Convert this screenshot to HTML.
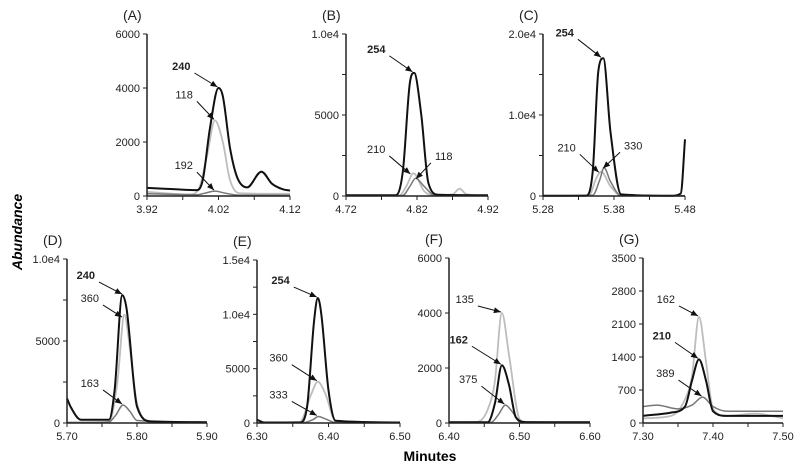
<!DOCTYPE html>
<html><head><meta charset="utf-8"><style>
html,body{margin:0;padding:0;background:#fff;}
svg{display:block;font-family:"Liberation Sans",Arial,sans-serif;}
</style></head><body>
<svg id="chart" width="800" height="468" viewBox="0 0 800 468">
<text x="22" y="232" font-size="14" font-weight="bold" font-style="italic" text-anchor="middle" transform="rotate(-90 22 232)">Abundance</text>
<text x="430" y="461" font-size="14" font-weight="bold" text-anchor="middle">Minutes</text>
</svg>
<script>
// Panel A
const aX=[3.92,3.96,3.99,3.998,4.008,4.02,4.026,4.036,4.046,4.06,4.08,4.095,4.11,4.12];
const aBlack=[300,250,220,600,2500,4000,3700,1800,700,320,900,450,250,200];
const aLX=[3.92,3.98,3.993,4.004,4.015,4.026,4.036,4.05,4.12];
const aLight=[150,60,300,1500,2800,2000,600,100,80];
const aGX=[3.92,3.99,4.0,4.015,4.03,4.05,4.12];
const aGray=[80,50,100,180,100,30,30];
// Panel B
const bX=[4.72,4.79,4.80,4.81,4.816,4.826,4.836,4.85,4.92];
const bBlack=[50,50,1500,7000,7600,5000,800,80,50];
const bLX=[4.72,4.795,4.805,4.815,4.83,4.845,4.87,4.88,4.89,4.92];
const bLight=[20,30,600,1400,300,40,100,450,100,30];
const bGX=[4.72,4.80,4.81,4.818,4.83,4.845,4.92];
const bGray=[20,40,600,1100,600,40,20];
// Panel C
const cX=[5.28,5.34,5.35,5.358,5.365,5.375,5.39,5.46,5.474,5.48];
const cBlack=[30,30,3000,15500,17000,8000,200,30,300,7000];
const cLX=[5.28,5.345,5.355,5.362,5.375,5.39,5.48];
const cLight=[20,100,2200,3000,1200,50,20];
const cGX=[5.28,5.35,5.36,5.366,5.375,5.39,5.48];
const cGray=[20,100,2000,3500,1800,50,20];
// Panel D
const dX=[5.70,5.705,5.72,5.76,5.768,5.779,5.785,5.80,5.82,5.90];
const dBlack=[1500,1000,200,200,2000,7800,7000,1000,100,50];
const dLX=[5.70,5.76,5.772,5.782,5.79,5.80,5.82,5.90];
const dLight=[30,50,2500,6600,4500,1200,80,30];
const dGX=[5.70,5.76,5.77,5.78,5.79,5.80,5.90];
const dGray=[30,60,500,1100,700,150,30];
// Panel E
const eX=[6.30,6.31,6.36,6.37,6.38,6.385,6.39,6.40,6.41,6.50];
const eBlack=[300,50,50,1500,9500,11500,10000,3000,200,50];
const eLX=[6.30,6.36,6.375,6.385,6.395,6.41,6.50];
const eLight=[30,100,2500,3800,2800,200,30];
const eGX=[6.30,6.365,6.378,6.386,6.395,6.41,6.50];
const eGray=[20,40,300,600,400,50,20];
// Panel F
const fX=[6.40,6.455,6.465,6.475,6.485,6.495,6.51,6.60];
const fBlack=[30,30,700,2100,1400,200,30,30];
const fLX=[6.40,6.44,6.455,6.465,6.475,6.485,6.50,6.51,6.60];
const fLight=[30,40,500,1500,4000,2500,150,40,30];
const fGX=[6.40,6.46,6.47,6.48,6.49,6.50,6.60];
const fGray=[20,30,300,650,400,50,20];
// Panel G
const gX=[7.30,7.34,7.36,7.37,7.38,7.39,7.40,7.42,7.50];
const gBlack=[150,220,350,900,1350,900,250,150,150];
const gLX=[7.30,7.34,7.36,7.37,7.38,7.39,7.40,7.42,7.46,7.50];
const gLight=[100,150,500,1000,2250,1300,300,150,200,100];
const gGX=[7.30,7.32,7.35,7.37,7.385,7.40,7.42,7.50];
const gGray=[350,380,300,380,550,350,250,250];

const panels=[
 {id:'a',t:'(A)',L:147,R:290,T:34,B:196,x0:3.92,x1:4.12,ymax:6000,yt:[0,2000,4000,6000],yl:['0','2000','4000','6000'],xl:['3.92','4.02','4.12'],
  s:[[aLX,aLight,'#bdbdbd',1.8],[aGX,aGray,'#777',1.5],[aX,aBlack,'#111',2]],
  ann:[['240',true,4.02,4000,-28,-18],['118',false,4.015,2800,-22,-22],['192',false,4.015,180,-22,-22]]},
 {id:'b',t:'(B)',L:346,R:488,T:34,B:196,x0:4.72,x1:4.92,ymax:10000,yt:[0,2500,5000,7500,10000],yl:['0','','5000','','1.0e4'],xl:['4.72','4.82','4.92'],
  s:[[bLX,bLight,'#bdbdbd',1.8],[bGX,bGray,'#777',1.5],[bX,bBlack,'#111',2]],
  ann:[['254',true,4.815,7600,-28,-20],['210',false,4.812,1300,-26,-22],['118',false,4.82,1000,18,-20]]},
 {id:'c',t:'(C)',L:543,R:685,T:34,B:196,x0:5.28,x1:5.48,ymax:20000,yt:[0,5000,10000,15000,20000],yl:['0','','1.0e4','','2.0e4'],xl:['5.28','5.38','5.48'],
  s:[[cLX,cLight,'#bdbdbd',1.8],[cGX,cGray,'#777',1.5],[cX,cBlack,'#111',2]],
  ann:[['254',true,5.363,17000,-28,-22],['210',false,5.36,2800,-24,-22],['330',false,5.366,3300,20,-20]]},
 {id:'d',t:'(D)',L:67,R:207,T:259,B:423,x0:5.70,x1:5.90,ymax:10000,yt:[0,2500,5000,7500,10000],yl:['0','','5000','','1.0e4'],xl:['5.70','5.80','5.90'],
  s:[[dLX,dLight,'#bdbdbd',1.8],[dGX,dGray,'#777',1.5],[dX,dBlack,'#111',2]],
  ann:[['240',true,5.78,7800,-28,-16],['360',false,5.78,6400,-24,-16],['163',false,5.78,1100,-24,-18]]},
 {id:'e',t:'(E)',L:257,R:400,T:260,B:423,x0:6.30,x1:6.50,ymax:15000,yt:[0,2500,5000,7500,10000,12500,15000],yl:['0','','5000','','1.0e4','','1.5e4'],xl:['6.30','6.40','6.50'],
  s:[[eLX,eLight,'#bdbdbd',1.8],[eGX,eGray,'#777',1.5],[eX,eBlack,'#111',2]],
  ann:[['254',true,6.385,11500,-28,-14],['360',false,6.385,3800,-30,-20],['333',false,6.385,600,-30,-18]]},
 {id:'f',t:'(F)',L:449,R:590,T:258,B:423,x0:6.40,x1:6.60,ymax:6000,yt:[0,2000,4000,6000],yl:['0','2000','4000','6000'],xl:['6.40','6.50','6.60'],
  s:[[fLX,fLight,'#bdbdbd',1.8],[fGX,fGray,'#777',1.5],[fX,fBlack,'#111',2]],
  ann:[['135',false,6.475,4000,-28,-10],['162',true,6.475,2100,-34,-22],['375',false,6.48,650,-28,-22]]},
 {id:'g',t:'(G)',L:643,R:783,T:258,B:423,x0:7.30,x1:7.50,ymax:3500,yt:[0,700,1400,2100,2800,3500],yl:['0','700','1400','2100','2800','3500'],xl:['7.30','7.40','7.50'],
  s:[[gLX,gLight,'#bdbdbd',1.8],[gGX,gGray,'#777',1.5],[gX,gBlack,'#111',2]],
  ann:[['162',false,7.38,2250,-24,-14],['210',true,7.38,1350,-28,-20],['389',false,7.385,550,-28,-20]]}
];
const NS='http://www.w3.org/2000/svg';
const svg=document.getElementById('chart');
function mk(tag,attrs,parent){const e=document.createElementNS(NS,tag);for(const k in attrs)e.setAttribute(k,attrs[k]);(parent||svg).appendChild(e);return e;}
const defs=mk('defs',{});
const mkr=mk('marker',{id:'ah',markerWidth:'8',markerHeight:'8',refX:'7',refY:'4',orient:'auto',markerUnits:'userSpaceOnUse'},defs);
mk('path',{d:'M0,1 L7,4 L0,7 Z',fill:'#111'},mkr);
// monotone cubic (no overshoot)
function smooth(pts){const n=pts.length;const dx=[],m=[],t=new Array(n);
 for(let i=0;i<n-1;i++){dx.push(pts[i+1][0]-pts[i][0]);m.push((pts[i+1][1]-pts[i][1])/dx[i]);}
 t[0]=m[0];t[n-1]=m[n-2];
 for(let i=1;i<n-1;i++){t[i]=(m[i-1]*m[i]<=0)?0:(m[i-1]+m[i])/2;}
 for(let i=0;i<n-1;i++){if(m[i]===0){t[i]=0;t[i+1]=0;continue;}const a=t[i]/m[i],b=t[i+1]/m[i],s=a*a+b*b;if(s>9){const k=3/Math.sqrt(s);t[i]=k*a*m[i];t[i+1]=k*b*m[i];}}
 let d='M'+pts[0][0].toFixed(1)+','+pts[0][1].toFixed(1);
 for(let i=0;i<n-1;i++){const h=dx[i]/3;d+=` C${(pts[i][0]+h).toFixed(1)},${(pts[i][1]+t[i]*h).toFixed(1)} ${(pts[i+1][0]-h).toFixed(1)},${(pts[i+1][1]-t[i+1]*h).toFixed(1)} ${pts[i+1][0].toFixed(1)},${pts[i+1][1].toFixed(1)}`;}
 return d;}
panels.forEach(p=>{
 const g=mk('g',{});
 
 
 const sx=v=>p.L+(v-p.x0)/(p.x1-p.x0)*(p.R-p.L);
 const sy=v=>p.B-v/p.ymax*(p.B-p.T);
 const tt=mk('text',{x:p.L-24,y:p.T-14,'font-size':'14',fill:'#222'},g);tt.textContent=p.t;
 
 
 p.s.forEach((s,si)=>{const pts=s[0].map((x,i)=>[sx(x),sy(s[1][i])]);
  const path=mk('path',{d:smooth(pts),fill:'none',stroke:s[2],'stroke-width':s[3],'stroke-linejoin':'round'},g);
  
  });
 mk('line',{x1:p.L,y1:p.T,x2:p.L,y2:p.B,stroke:'#222','stroke-width':'1.5'},g);
 mk('line',{x1:p.L,y1:p.B,x2:p.R,y2:p.B,stroke:'#222','stroke-width':'1.5'},g);
 p.yt.forEach((v,i)=>{const y=sy(v);mk('line',{x1:p.L-4,y1:y,x2:p.L,y2:y,stroke:'#222'},g);
  if(p.yl[i]){const t=mk('text',{x:p.L-7,y:y+4,'font-size':'11','text-anchor':'end',fill:'#222'},g);t.textContent=p.yl[i];
  
  }});
 for(let k=0;k<=4;k++){const v=p.x0+(p.x1-p.x0)*k/4;const x=sx(v);mk('line',{x1:x,y1:p.B,x2:x,y2:p.B+4,stroke:'#222'},g);
  if(k%2==0){const t=mk('text',{x:x,y:p.B+17,'font-size':'11','text-anchor':'middle',fill:'#222'},g);t.textContent=p.xl[k/2];
  
  }}
 p.ann.forEach(a=>{const tx=sx(a[2]),ty=sy(a[3]);const lx=tx+a[4],ly=ty+a[5];
  mk('line',{x1:lx+(a[4]<0?4:-4),y1:ly+3,x2:tx-1,y2:ty-1,stroke:'#111','stroke-width':'1','marker-end':'url(#ah)'},g);
  const t=mk('text',{x:lx,y:ly,'font-size':'11','text-anchor':a[4]<0?'end':'start','font-weight':a[1]?'bold':'normal',fill:'#222'},g);t.textContent=a[0];
  
  });
});
</script>
</body></html>
